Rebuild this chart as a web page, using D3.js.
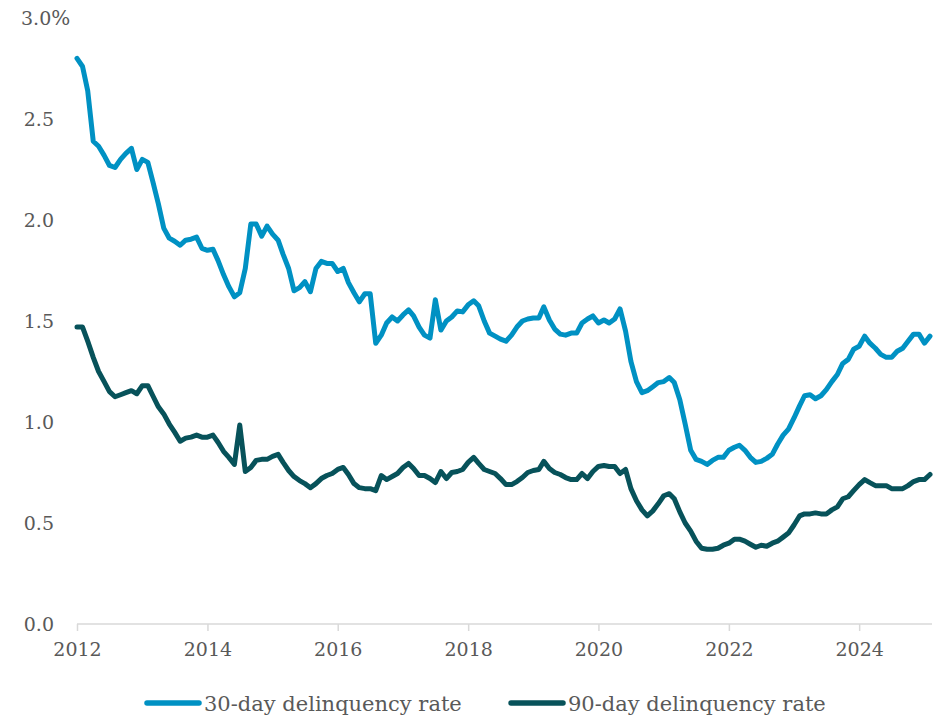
<!DOCTYPE html>
<html>
<head>
<meta charset="utf-8">
<script src="https://cdn.jsdelivr.net/npm/d3@7"></script>
<style>
  html, body { margin: 0; padding: 0; background: #ffffff; }
  svg text { font-family: "DejaVu Serif", "Liberation Serif", serif; fill: #595959; }
</style>
</head>
<body>
<svg id="chart" width="939" height="715"></svg>
<script>
// Monthly series, January 2012 through February 2025 (percent)
const startMonth = new Date(2012, 0, 1);

const rate30 = [
  2.80, 2.76, 2.64, 2.39, 2.365, 2.32, 2.27, 2.26, 2.30, 2.33, 2.355, 2.25,
  2.30, 2.285, 2.19, 2.08, 1.96, 1.91, 1.895, 1.875, 1.90, 1.905, 1.915, 1.86,
  1.85, 1.855, 1.80, 1.73, 1.67, 1.62, 1.64, 1.76, 1.98, 1.98, 1.92, 1.97,
  1.93, 1.90, 1.83, 1.76, 1.65, 1.665, 1.695, 1.645, 1.76, 1.795, 1.785, 1.785,
  1.745, 1.76, 1.69, 1.64, 1.595, 1.635, 1.635, 1.39, 1.43, 1.49, 1.52, 1.50,
  1.53, 1.555, 1.525, 1.47, 1.43, 1.415, 1.605, 1.455, 1.50, 1.52, 1.55, 1.545,
  1.58, 1.60, 1.575, 1.50, 1.44, 1.425, 1.41, 1.40, 1.43, 1.47, 1.50, 1.51,
  1.515, 1.515, 1.57, 1.505, 1.46, 1.435, 1.43, 1.44, 1.44, 1.49, 1.51, 1.525,
  1.49, 1.505, 1.49, 1.51, 1.56, 1.45, 1.30, 1.20, 1.145, 1.155, 1.175, 1.195,
  1.20, 1.22, 1.195, 1.11, 0.99, 0.86, 0.815, 0.805, 0.79, 0.81, 0.825, 0.825,
  0.86, 0.875, 0.885, 0.86, 0.825, 0.80, 0.805, 0.82, 0.84, 0.89, 0.935, 0.965,
  1.02, 1.08, 1.13, 1.135, 1.115, 1.13, 1.16, 1.20, 1.235, 1.29, 1.31, 1.36,
  1.375, 1.425, 1.39, 1.365, 1.335, 1.32, 1.32, 1.35, 1.365, 1.40, 1.435, 1.435,
  1.39, 1.425
];

const rate90 = [
  1.47, 1.47, 1.40, 1.32, 1.25, 1.20, 1.15, 1.125, 1.135, 1.145, 1.155, 1.14,
  1.18, 1.18, 1.13, 1.075, 1.04, 0.99, 0.95, 0.905, 0.92, 0.925, 0.935, 0.925,
  0.925, 0.935, 0.90, 0.855, 0.825, 0.79, 0.985, 0.755, 0.775, 0.81, 0.815, 0.815,
  0.83, 0.84, 0.80, 0.76, 0.73, 0.71, 0.695, 0.675, 0.695, 0.72, 0.735, 0.745,
  0.765, 0.775, 0.74, 0.695, 0.675, 0.67, 0.67, 0.66, 0.735, 0.715, 0.73, 0.745,
  0.775, 0.795, 0.77, 0.735, 0.735, 0.72, 0.70, 0.755, 0.72, 0.75, 0.755, 0.765,
  0.80, 0.825, 0.795, 0.765, 0.755, 0.745, 0.72, 0.69, 0.69, 0.705, 0.725, 0.75,
  0.76, 0.765, 0.805, 0.77, 0.75, 0.74, 0.725, 0.715, 0.715, 0.745, 0.72, 0.755,
  0.78, 0.785, 0.78, 0.78, 0.745, 0.765, 0.67, 0.61, 0.565, 0.535, 0.56, 0.595,
  0.635, 0.645, 0.62, 0.555, 0.50, 0.46, 0.41, 0.375, 0.37, 0.37, 0.375, 0.39,
  0.40, 0.42, 0.42, 0.41, 0.395, 0.38, 0.39, 0.385, 0.40, 0.41, 0.43, 0.45,
  0.49, 0.535, 0.545, 0.545, 0.55, 0.545, 0.545, 0.565, 0.58, 0.62, 0.63, 0.66,
  0.69, 0.715, 0.70, 0.685, 0.685, 0.685, 0.67, 0.67, 0.67, 0.685, 0.705, 0.715,
  0.715, 0.74
];

const yTicks = [0, 0.5, 1.0, 1.5, 2.0, 2.5, 3.0];
const xTickYears = [2012, 2014, 2016, 2018, 2020, 2022, 2024];

const seriesNames = ["30-day delinquency rate", "90-day delinquency rate"];
const seriesColors = ["#0091c3", "#07525a"];

const months = rate30.map((_, i) => d3.timeMonth.offset(startMonth, i));

const svg = d3.select("#chart");

const x = d3.scaleTime()
  .domain([months[0], months[months.length - 1]])
  .range([77, 930]);

const y = d3.scaleLinear()
  .domain([0, 3])
  .range([624, 18]);

// y-axis labels (no axis line)
const yAxis = d3.axisLeft(y)
  .tickValues(yTicks)
  .tickSize(0)
  .tickPadding(0)
  .tickFormat(d3.format(".1f"));

const yg = svg.append("g")
  .attr("transform", "translate(54,0)")
  .call(yAxis);
yg.select(".domain").remove();
yg.selectAll("text")
  .attr("font-size", 19)
  .attr("font-family", null)
  .attr("dy", "0.36em");
// percent sign trails the top label
const topLabel = yg.selectAll(".tick").filter(d => d === 3).select("text");
topLabel.append("tspan").text("%").attr("font-size", 20);
topLabel.attr("text-anchor", "start").attr("x", -33);

// x-axis along the baseline
const xAxis = d3.axisBottom(x)
  .tickValues(xTickYears.map(yr => new Date(yr, 0, 1)))
  .tickSize(7)
  .tickSizeOuter(0)
  .tickPadding(12)
  .tickFormat(d3.timeFormat("%Y"));

const xg = svg.append("g")
  .attr("transform", `translate(0,${y(0)})`)
  .call(xAxis);
xg.select(".domain")
  .attr("stroke", "#d9d9d9")
  .attr("stroke-width", 1.5)
  .attr("d", `M77,0H932`);
xg.selectAll(".tick line")
  .attr("stroke", "#d9d9d9")
  .attr("stroke-width", 1.5);
xg.selectAll("text")
  .attr("font-size", 19)
  .attr("font-family", null);

// lines
const line = d3.line()
  .x((d, i) => x(months[i]))
  .y(d => y(d))
  .curve(d3.curveLinear);

[rate30, rate90].forEach((series, k) => {
  svg.append("path")
    .datum(series)
    .attr("fill", "none")
    .attr("stroke", seriesColors[k])
    .attr("stroke-width", 5)
    .attr("stroke-linejoin", "round")
    .attr("stroke-linecap", "round")
    .attr("d", line);
});

// legend
const legendX = [147, 511];
const legendY = 703;
const lg = svg.append("g");
seriesNames.forEach((name, k) => {
  lg.append("line")
    .attr("x1", legendX[k])
    .attr("x2", legendX[k] + 52)
    .attr("y1", legendY)
    .attr("y2", legendY)
    .attr("stroke", seriesColors[k])
    .attr("stroke-width", 5.5)
    .attr("stroke-linecap", "round");
  lg.append("text")
    .attr("x", legendX[k] + 57)
    .attr("y", legendY)
    .attr("dy", "0.36em")
    .attr("font-size", 21)
    .text(name);
});
</script>
</body>
</html>
